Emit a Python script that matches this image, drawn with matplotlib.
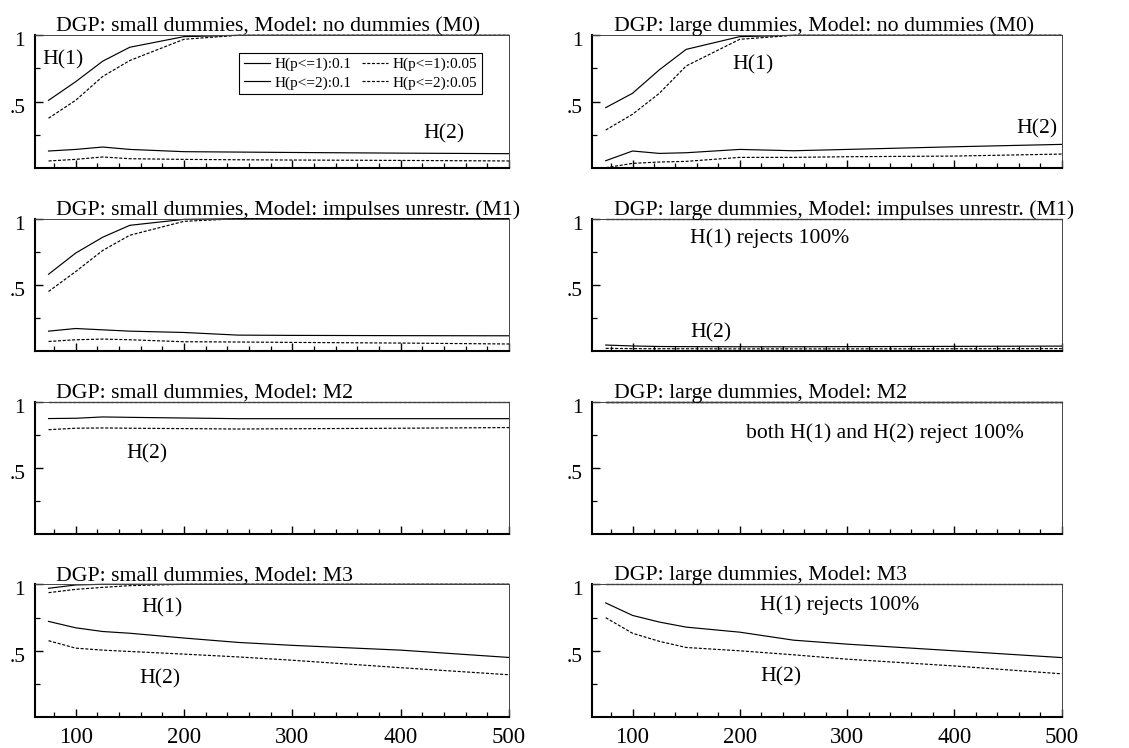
import matplotlib
matplotlib.use("Agg")
import matplotlib.pyplot as plt
import matplotlib.transforms as mtransforms
from matplotlib.ticker import FixedLocator, NullFormatter, FixedFormatter

plt.rcParams['font.family'] = ['Liberation Serif', 'DejaVu Serif']

# ---------------- data ----------------
T = [75, 100, 125, 150, 200, 250, 300, 400, 500]

titles = [
    "DGP: small dummies, Model: no dummies (M0)",
    "DGP: large dummies, Model: no dummies (M0)",
    "DGP: small dummies, Model: impulses unrestr. (M1)",
    "DGP: large dummies, Model: impulses unrestr. (M1)",
    "DGP: small dummies, Model: M2",
    "DGP: large dummies, Model: M2",
    "DGP: small dummies, Model: M3",
    "DGP: large dummies, Model: M3",
]

legend_labels = ["H(p<=1):0.1", "H(p<=2):0.1", "H(p<=1):0.05", "H(p<=2):0.05"]

# rejection frequencies: H(p<=1) at 10%, H(p<=1) at 5%, H(p<=2) at 10%, H(p<=2) at 5%
a_h1_10 = [0.51, 0.65, 0.805, 0.91, 0.99, 1, 1, 1, 1]
a_h1_05 = [0.375, 0.51, 0.69, 0.81, 0.97, 1, 1, 1, 1]
a_h2_10 = [0.128, 0.14, 0.158, 0.14, 0.123, 0.12, 0.117, 0.112, 0.108]
a_h2_05 = [0.053, 0.065, 0.083, 0.07, 0.065, 0.062, 0.06, 0.057, 0.053]

b_h1_10 = [0.455, 0.563, 0.74, 0.894, 0.99, 1, 1, 1, 1]
b_h1_05 = [0.286, 0.405, 0.563, 0.769, 0.97, 1, 1, 1, 1]
b_h2_10 = [0.055, 0.128, 0.11, 0.115, 0.14, 0.13, 0.14, 0.16, 0.178]
b_h2_05 = [0.002, 0.035, 0.045, 0.05, 0.08, 0.08, 0.085, 0.09, 0.105]

c_h1_10 = [0.58, 0.74, 0.86, 0.95, 0.995, 1, 1, 1, 1]
c_h1_05 = [0.45, 0.6, 0.76, 0.875, 0.98, 1, 1, 1, 1]
c_h2_10 = [0.15, 0.17, 0.16, 0.15, 0.14, 0.12, 0.118, 0.116, 0.115]
c_h2_05 = [0.072, 0.085, 0.09, 0.085, 0.07, 0.068, 0.065, 0.06, 0.053]

d_h1_10 = [1, 1, 1, 1, 1, 1, 1, 1, 1]
d_h1_05 = [1, 1, 1, 1, 1, 1, 1, 1, 1]
d_h2_10 = [0.045, 0.038, 0.034, 0.033, 0.032, 0.032, 0.033, 0.035, 0.037]
d_h2_05 = [0.02, 0.018, 0.017, 0.017, 0.016, 0.016, 0.016, 0.017, 0.018]

e_h1_10 = [1, 1, 1, 1, 1, 1, 1, 1, 1]
e_h1_05 = [1, 1, 1, 1, 1, 1, 1, 1, 1]
e_h2_10 = [0.873, 0.875, 0.885, 0.882, 0.877, 0.872, 0.872, 0.872, 0.872]
e_h2_05 = [0.789, 0.8, 0.802, 0.8, 0.797, 0.794, 0.796, 0.8, 0.805]

f_h1_10 = [1, 1, 1, 1, 1, 1, 1, 1, 1]
f_h1_05 = [1, 1, 1, 1, 1, 1, 1, 1, 1]
f_h2_10 = [1, 1, 1, 1, 1, 1, 1, 1, 1]
f_h2_05 = [1, 1, 1, 1, 1, 1, 1, 1, 1]

g_h1_10 = [0.97, 0.995, 1, 1, 1, 1, 1, 1, 1]
g_h1_05 = [0.937, 0.962, 0.977, 0.99, 1, 1, 1, 1, 1]
g_h2_10 = [0.721, 0.673, 0.645, 0.632, 0.596, 0.563, 0.541, 0.505, 0.45]
g_h2_05 = [0.576, 0.52, 0.505, 0.495, 0.475, 0.454, 0.429, 0.373, 0.32]

h_h1_10 = [1, 1, 1, 1, 1, 1, 1, 1, 1]
h_h1_05 = [1, 1, 1, 1, 1, 1, 1, 1, 1]
h_h2_10 = [0.86, 0.766, 0.716, 0.678, 0.64, 0.58, 0.55, 0.5, 0.449]
h_h2_05 = [0.749, 0.632, 0.571, 0.525, 0.5, 0.47, 0.437, 0.386, 0.327]

panels = [
    (a_h1_10, a_h1_05, a_h2_10, a_h2_05),
    (b_h1_10, b_h1_05, b_h2_10, b_h2_05),
    (c_h1_10, c_h1_05, c_h2_10, c_h2_05),
    (d_h1_10, d_h1_05, d_h2_10, d_h2_05),
    (e_h1_10, e_h1_05, e_h2_10, e_h2_05),
    (f_h1_10, f_h1_05, f_h2_10, f_h2_05),
    (g_h1_10, g_h1_05, g_h2_10, g_h2_05),
    (h_h1_10, h_h1_05, h_h2_10, h_h2_05),
]

# annotations: (panel index, text, x in data, baseline y in data)
notes = [
    (0, "H(1)", 69, 0.78),
    (0, "H(2)", 421, 0.22),
    (1, "H(1)", 193, 0.74),
    (1, "H(2)", 458, 0.26),
    (3, "H(1) rejects 100%", 154, 0.82),
    (3, "H(2)", 154, 0.105),
    (4, "H(2)", 147, 0.57),
    (5, "both H(1) and H(2) reject 100%", 206, 0.73),
    (6, "H(1)", 161, 0.79),
    (6, "H(2)", 159, 0.256),
    (7, "H(1) rejects 100%", 219, 0.807),
    (7, "H(2)", 219, 0.268),
]

# ---------------- layout ----------------
W, H = 1129, 748
fig = plt.figure(figsize=(W / 100, H / 100), dpi=100)

col_x = [(35, 509), (592.3, 1061.7)]
row_y = [(35.3, 168), (218.7, 351), (401.7, 534.3), (584.3, 717.3)]

solid_kw = dict(color='black', lw=0.85, solid_joinstyle='miter')
dash_kw = dict(color='black', lw=0.85, dashes=(2.6, 1.4))

axes = []
for i in range(8):
    r, c = divmod(i, 2)
    x0, x1 = col_x[c]
    y0, y1 = row_y[r]
    ax = fig.add_axes([x0 / W, 1 - y1 / H, (x1 - x0) / W, (y1 - y0) / H])
    axes.append(ax)
    h1_10, h1_05, h2_10, h2_05 = panels[i]
    l1, = ax.plot(T, h1_10, **solid_kw)
    l3, = ax.plot(T, h1_05, **dash_kw)
    l2, = ax.plot(T, h2_10, **solid_kw)
    l4, = ax.plot(T, h2_05, **dash_kw)
    for ln in (l1, l2, l3, l4):
        ln.set_clip_on(False)

    ax.set_xlim(62.5, 500)
    ax.set_ylim(0, 1)
    for s in ('left', 'bottom'):
        ax.spines[s].set_linewidth(1.5)
    for s in ('top', 'right'):
        ax.spines[s].set_linewidth(0.7)
        ax.spines[s].set_color('#444444')

    ax.xaxis.set_major_locator(FixedLocator([100, 200, 300, 400, 500]))
    ax.xaxis.set_minor_locator(FixedLocator(list(range(80, 500, 20))))
    ax.yaxis.set_major_locator(FixedLocator([0.5, 1.0]))
    ax.yaxis.set_minor_locator(FixedLocator([0.25, 0.75]))
    ax.yaxis.set_major_formatter(FixedFormatter(['.5', '1']))
    ax.tick_params(axis='x', which='major', direction='in', length=6, width=1.0,
                   top=False, labelsize=16.5, pad=7)
    ax.tick_params(axis='x', which='minor', direction='in', length=3.5, width=0.9, top=False)
    ax.tick_params(axis='y', which='major', direction='in', length=5.5, width=1.0,
                   right=False, labelsize=15.5, pad=7)
    ax.tick_params(axis='y', which='minor', direction='in', length=3.5, width=0.9, right=False)
    if r < 3:
        ax.xaxis.set_major_formatter(NullFormatter())
    off = mtransforms.ScaledTranslation(0, -4 / 100, fig.dpi_scale_trans)
    for lab in ax.get_yticklabels():
        lab.set_transform(lab.get_transform() + off)

    trans = mtransforms.blended_transform_factory(ax.transData, ax.transAxes)
    ax.text(82 if c == 0 else 83, 1.03, titles[i], transform=trans,
            fontsize=15.7, ha='left', va='baseline')

    if i == 0:
        ax.legend([l1, l2, l3, l4], legend_labels, ncol=2, loc='upper right',
                  bbox_to_anchor=(0.943, 0.867), fontsize=11, frameon=True,
                  fancybox=False, edgecolor='black', framealpha=1,
                  handlelength=1.7, handletextpad=0.3, columnspacing=0.7,
                  labelspacing=0.3, borderpad=0.3, borderaxespad=0)
        ax.get_legend().get_frame().set_linewidth(0.8)

for (i, txt, x, y) in notes:
    axes[i].text(x, y, txt, fontsize=15.6, ha='left', va='baseline')

fig.savefig("out.png", dpi=100)
